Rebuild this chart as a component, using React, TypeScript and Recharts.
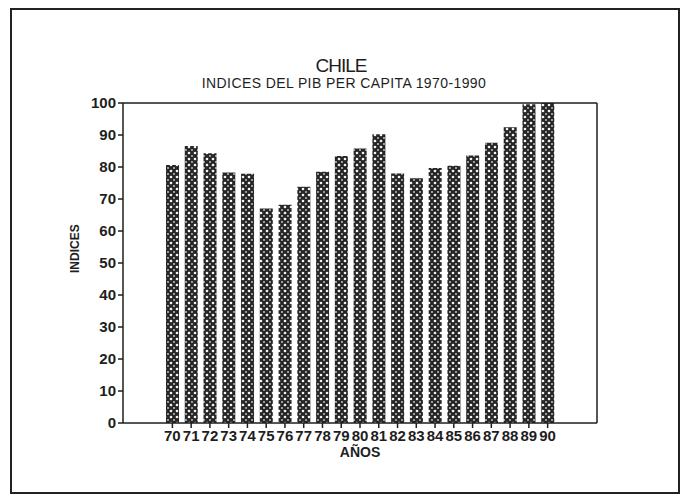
import { BarChart, Bar, XAxis, YAxis } from 'recharts';

// años 1970-1990, etiquetas de dos dígitos
const years = ['70', '71', '72', '73', '74', '75', '76', '77', '78', '79', '80', '81', '82', '83', '84', '85', '86', '87', '88', '89', '90'];
const indices = [80.6, 86.6, 84.3, 78.3, 77.9, 67.0, 68.2, 73.8, 78.5, 83.4, 85.8, 90.2, 78.0, 76.5, 79.7, 80.4, 83.6, 87.6, 92.4, 99.6, 100];
const yTicks = [0, 10, 20, 30, 40, 50, 60, 70, 80, 90, 100];

const data = years.map((year, i) => ({ year, value: indices[i] }));

const font = '"Liberation Sans", Arial, sans-serif';
const ink = '#1e1e1e';

export default function App() {
  return (
    <div style={{ position: 'absolute', left: 0, top: 0, width: 682, height: 502, background: '#fff', fontFamily: font }}>
      <div style={{ position: 'absolute', left: 10, top: 8, width: 666, height: 482, border: '2px solid #222' }} />
      <div style={{ position: 'absolute', left: 0, width: 682, top: 55, textAlign: 'center', fontSize: 19, color: ink, letterSpacing: -1 }}>
        CHILE
      </div>
      <div style={{ position: 'absolute', left: 0, width: 682, top: 75, textAlign: 'center', fontSize: 14, color: ink, letterSpacing: 0.4, paddingLeft: 6, boxSizing: 'border-box' }}>
        INDICES DEL PIB PER CAPITA 1970-1990
      </div>
      <div style={{ position: 'absolute', left: 0, top: 0 }}>
        <BarChart width={682} height={502} data={data} margin={{ top: 102, right: 84, bottom: 49, left: 83 }} barSize={13}>
          <defs>
            <pattern id="dots" width="6" height="6" patternUnits="userSpaceOnUse">
              <rect width="6" height="6" fill="#262626" />
              <circle cx="3" cy="3" r="1.3" fill="#f4f4f4" />
              <circle cx="0" cy="0" r="0.9" fill="#d0d0d0" />
              <circle cx="6" cy="0" r="0.9" fill="#d0d0d0" />
              <circle cx="0" cy="6" r="0.9" fill="#d0d0d0" />
              <circle cx="6" cy="6" r="0.9" fill="#d0d0d0" />
            </pattern>
          </defs>
          <XAxis
            dataKey="year"
            padding={{ left: 40, right: 40 }}
            stroke={ink}
            strokeWidth={1.5}
            tickSize={5}
            interval={0}
            tick={{ fill: ink, fontSize: 15, fontWeight: 'bold', fontFamily: font }}
            height={30}
            label={{ value: 'AÑOS', position: 'insideBottom', offset: -4, fill: ink, fontSize: 14, fontWeight: 'bold', fontFamily: font }}
          />
          <XAxis xAxisId="top" orientation="top" dataKey="year" tick={false} tickLine={false} axisLine={{ stroke: ink, strokeWidth: 1.5 }} height={1} />
          <YAxis
            domain={[0, 100]}
            ticks={yTicks}
            stroke={ink}
            strokeWidth={1.5}
            tickSize={5}
            width={40}
            tick={{ fill: ink, fontSize: 15, fontWeight: 'bold', fontFamily: font }}
            label={{ value: 'INDICES', angle: -90, position: 'insideLeft', offset: -8, dy: 10, fill: ink, fontSize: 12, fontWeight: 'bold', fontFamily: font }}
            allowDataOverflow
          />
          <YAxis yAxisId="right" orientation="right" domain={[0, 100]} tick={false} tickLine={false} axisLine={{ stroke: ink, strokeWidth: 1.5 }} width={1} />
          <Bar dataKey="value" fill="url(#dots)" isAnimationActive={false} />
        </BarChart>
      </div>
    </div>
  );
}
